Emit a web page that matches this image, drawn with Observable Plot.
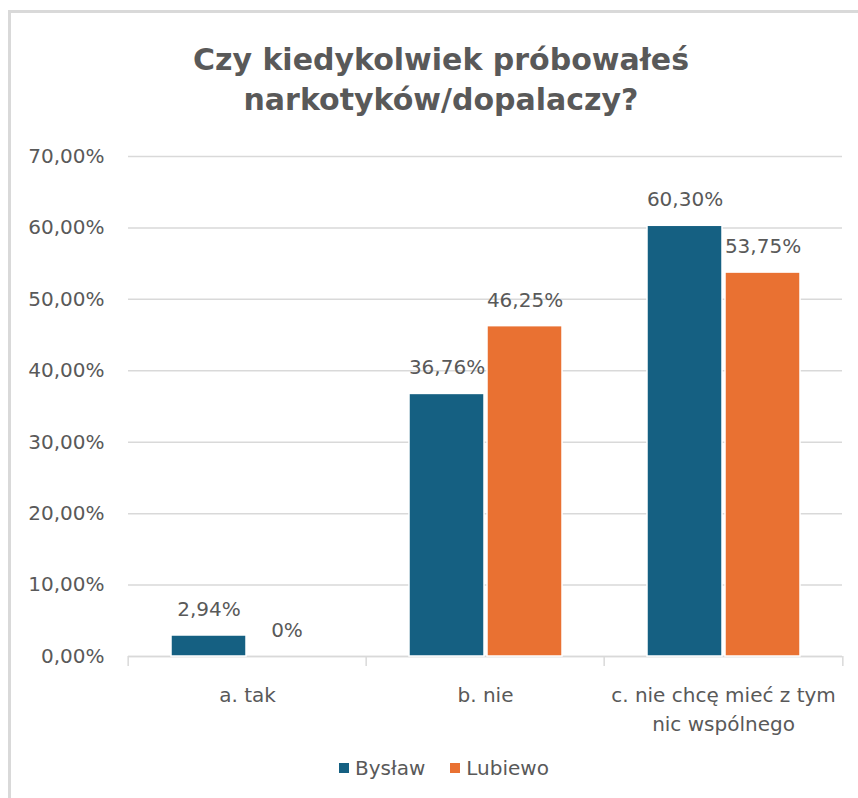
<!DOCTYPE html>
<html>
<head>
<meta charset="utf-8">
<script src="https://cdn.jsdelivr.net/npm/d3@7"></script>
<script src="https://cdn.jsdelivr.net/npm/@observablehq/plot@0.6"></script>
<style>
  body { margin: 0; background: #ffffff; font-family: "DejaVu Sans", sans-serif; color: #595959; }
  #page { position: relative; width: 858px; height: 798px; overflow: hidden; background: #ffffff; }
  #frame { position: absolute; left: 8px; top: 10px; width: 900px; height: 900px;
           border-top: 3px solid #d9d9d9; border-left: 3px solid #d9d9d9; }
  #title { position: absolute; left: 0; top: 40px; width: 882px; text-align: center;
           font-weight: bold; font-size: 30px; line-height: 40px; color: #595959; }
  #chart { position: absolute; left: 0; top: 140px; }
  #legend { position: absolute; left: 0; top: 756px; width: 888px; height: 24px;
            display: flex; justify-content: center; align-items: center; gap: 25px;
            font-size: 20px; color: #595959; }
  .item { display: flex; align-items: center; gap: 6px; }
  .sw { width: 10px; height: 10px; display: inline-block; }
</style>
</head>
<body>
<div id="page">
  <div id="frame"></div>
  <div id="title">Czy kiedykolwiek próbowałeś<br>narkotyków/dopalaczy?</div>
  <div id="chart"></div>
  <div id="legend"></div>
</div>
<script>
const categories = ["a. tak", "b. nie", "c. nie chcę mieć z tym nic wspólnego"];
const categoryLines = ["a. tak", "b. nie", "c. nie chcę mieć z tym\nnic wspólnego"];
const series = ["Bysław", "Lubiewo"];
const byslawValues = [2.94, 36.76, 60.30];
const lubiewoValues = [0, 46.25, 53.75];
const yTicks = [0, 10, 20, 30, 40, 50, 60, 70];
const colors = ["#156082", "#E97132"];

const rows = [];
categories.forEach((c, i) => {
  rows.push({category: c, series: series[0], value: byslawValues[i]});
  rows.push({category: c, series: series[1], value: lubiewoValues[i]});
});

const fmtPct = v => v === 0 ? "0%" : v.toFixed(2).replace(".", ",") + "%";
const fmtTick = v => v.toFixed(2).replace(".", ",") + "%";

const W = 858, ML = 127, MR = 15;
const facetW = (W - ML - MR) / categories.length;
const gray = "#d9d9d9";
const textColor = "#595959";

const chart = Plot.plot({
  width: W,
  height: 600,
  marginLeft: ML,
  marginRight: MR,
  marginTop: 16,
  marginBottom: 84,
  style: {fontFamily: "DejaVu Sans, sans-serif", fontSize: "20px", color: textColor, background: "transparent"},
  fx: {domain: categories, padding: 0, label: null},
  x: {domain: series, paddingInner: 0.04, paddingOuter: 0.53, axis: null},
  y: {domain: [0, 70], label: null},
  color: {domain: series, range: colors},
  marks: [
    Plot.gridY(yTicks, {stroke: gray, strokeOpacity: 1, strokeWidth: 1.5}),
    Plot.ruleY([0], {stroke: gray, strokeWidth: 1.5}),
    Plot.ruleX(categories, {fx: d => d, x: null, y1: 0, y2: -1.4, dx: -facetW / 2, stroke: gray, strokeWidth: 1.5}),
    Plot.ruleX(categories.slice(-1), {fx: d => d, x: null, y1: 0, y2: -1.4, dx: facetW / 2, stroke: gray, strokeWidth: 1.5}),
    Plot.barY(rows, {fx: "category", x: "series", y: "value", fill: "series", stroke: "white", strokeWidth: 1.5}),
    Plot.text(rows, {fx: "category", x: "series", y: "value", text: d => fmtPct(d.value), dy: -26, fill: textColor}),
    Plot.axisY(yTicks, {tickSize: 0, tickPadding: 24, tickFormat: fmtTick, fill: textColor}),
    Plot.axisFx({anchor: "bottom", tickSize: 0, tickPadding: 25, lineHeight: 1.45, label: null, fill: textColor,
                 tickFormat: d => categoryLines[categories.indexOf(d)]})
  ]
});
document.getElementById("chart").appendChild(chart);

const legend = document.getElementById("legend");
series.forEach((s, i) => {
  const item = document.createElement("div");
  item.className = "item";
  const sw = document.createElement("span");
  sw.className = "sw";
  sw.style.background = colors[i];
  const t = document.createElement("span");
  t.textContent = s;
  item.appendChild(sw);
  item.appendChild(t);
  legend.appendChild(item);
});
</script>
</body>
</html>
